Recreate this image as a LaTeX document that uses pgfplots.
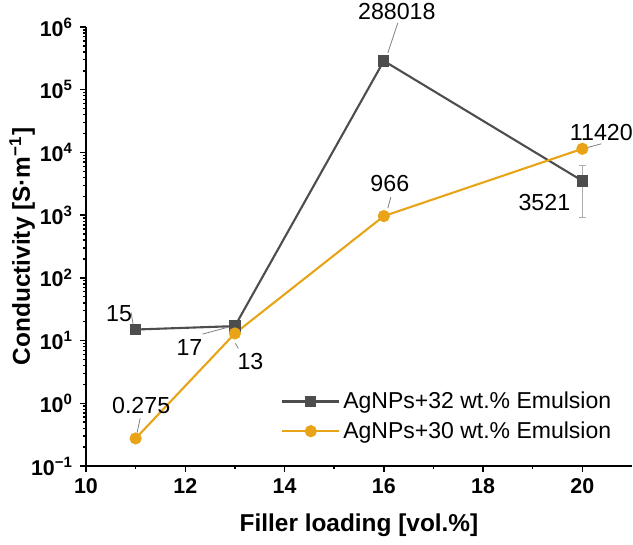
\documentclass[border=0pt]{standalone}
\usepackage{pgfplots}
\pgfplotsset{compat=1.18}
\usepackage{fontspec}
\setmainfont{Liberation Sans}
\usetikzlibrary{calc}
\definecolor{dk}{RGB}{77,77,77}
\definecolor{org}{RGB}{232,163,23}
\begin{document}
\begin{tikzpicture}
\begin{axis}[
  name=ax,
  scale only axis,
  width=273pt, height=219.5pt,
  xmin=10, xmax=21,
  ymode=log, ymin=0.1, ymax=1e6,
  axis lines*=left,
  axis line style={line width=0.9pt},
  every tick/.style={black, line width=0.7pt},
  tick align=outside,
  major tick length=3pt,
  minor tick length=1.6pt,
  xtick={10,12,14,16,18,20},
  minor x tick num=1,
  ytick={0.1,1,10,100,1000,10000,100000,1000000},
  yticklabels={10\textsuperscript{−1},10\textsuperscript{0},10\textsuperscript{1},10\textsuperscript{2},10\textsuperscript{3},10\textsuperscript{4},10\textsuperscript{5},10\textsuperscript{6}},
  /pgf/number format/assume math mode=true,
  ticklabel style={font=\bfseries\fontsize{10.7}{12}\selectfont},
  xlabel={Filler loading [vol.\%]},
  ylabel={Conductivity [S·m\textsuperscript{−1}]},
  label style={font=\bfseries\fontsize{12.2}{14}\selectfont},
  xlabel style={at={(axis description cs:0.5,-0.134)}, anchor=center},
  ylabel style={at={(axis description cs:-0.117,0.5)}, anchor=center},
  clip=false,
  legend style={draw=none, fill=none, at={(0.968,0.177)}, anchor=north east,
    font=\fontsize{11.5}{13.5}\selectfont, row sep=2pt, inner sep=0pt,
    nodes={inner sep=1.5pt},
    cells={anchor=west}},
  legend image code/.code={\draw[mark repeat=2,mark phase=2] plot coordinates {(0cm,0cm) (0.5cm,0cm) (1cm,0cm)};},
]
\addplot[forget plot, draw=none, mark=none, error bars/.cd, y dir=both, y explicit,
  error bar style={color=gray!65, line width=0.5pt},
  error mark options={rotate=90, mark size=1.75pt, color=gray!65, line width=0.5pt}]
  coordinates {(20,3521) +- (0,2600)};
\addplot[dk, line width=1.05pt, mark=square*, mark size=2.3pt, mark options={fill=dk, draw=dk}]
  coordinates {(11,15) (13,17) (16,288018) (20,3521)};
\addlegendentry{AgNPs+32 wt.\% Emulsion}
\addplot[org, line width=1.05pt, mark=*, mark size=2.5pt, mark options={fill=org, draw=org}]
  coordinates {(11,0.275) (13,13) (16,966) (20,11420)};
\addlegendentry{AgNPs+30 wt.\% Emulsion}

\tikzset{lab/.style={font=\fontsize{11.6}{13}\selectfont, inner sep=0pt}, ld/.style={gray, line width=0.4pt}}
% labels
\node[lab] at ([shift={(6.5pt,24.5pt)}]axis cs:16,288018) {288018};
\draw[ld] ([shift={(2pt,4pt)}]axis cs:16,288018) -- ([shift={(7pt,19pt)}]axis cs:16,288018);
\node[lab] at ([shift={(9.5pt,8pt)}]axis cs:20,11420) {11420};
\draw[ld] ([shift={(2pt,0.5pt)}]axis cs:20,11420) -- ([shift={(9.5pt,2.5pt)}]axis cs:20,11420);
\node[lab] at ([shift={(3pt,16.5pt)}]axis cs:16,966) {966};
\draw[ld] ([shift={(2pt,4pt)}]axis cs:16,966) -- ([shift={(3.5pt,9.5pt)}]axis cs:16,966);
\node[lab] at ([shift={(-19pt,-11pt)}]axis cs:20,3521) {3521};
\node[lab] at ([shift={(-8.25pt,8pt)}]axis cs:11,15) {15};
\draw[ld] ([shift={(-1.25pt,2.5pt)}]axis cs:11,15) -- ([shift={(-2.25pt,8.5pt)}]axis cs:11,15);
\node[lab] at ([shift={(-22.75pt,-10.5pt)}]axis cs:13,17) {17};
\draw[ld] ([shift={(-3.25pt,-0.5pt)}]axis cs:13,17) -- ([shift={(-16.25pt,-4pt)}]axis cs:13,17);
\node[lab] at ([shift={(7.75pt,-14pt)}]axis cs:13,13) {13};
\draw[ld] ([shift={(0.25pt,-5pt)}]axis cs:13,13) -- ([shift={(1.75pt,-7.5pt)}]axis cs:13,13);
\node[lab] at ([shift={(2.75pt,16.5pt)}]axis cs:11,0.275) {0.275};
\draw[ld] ([shift={(0.75pt,3pt)}]axis cs:11,0.275) -- ([shift={(2.25pt,10pt)}]axis cs:11,0.275);
\end{axis}
\useasboundingbox ($(ax.south west)+(-43pt,-39.5pt)$) rectangle ($(ax.north east)+(0.5pt,13.5pt)$);
\end{tikzpicture}
\end{document}
